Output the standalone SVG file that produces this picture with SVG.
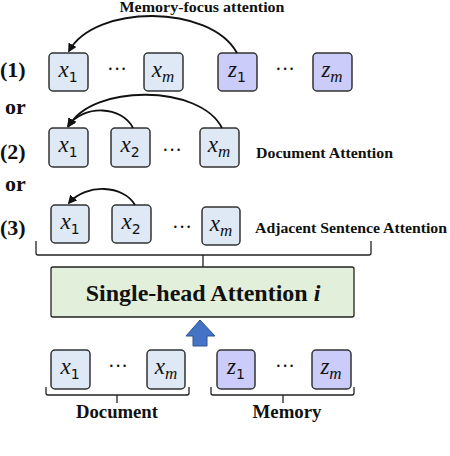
<svg xmlns="http://www.w3.org/2000/svg" width="450" height="456" viewBox="0 0 450 456">
<style>
.xb{fill:#dee9f5;stroke:#333;stroke-width:1.5}
.zb{fill:#ccccfa;stroke:#333;stroke-width:1.5}
.v{font-family:"Liberation Serif",serif;font-style:italic;font-size:23px;fill:#111}
.s{font-family:"DejaVu Sans",sans-serif;font-style:normal;font-size:14px}
.sm{font-family:"Liberation Serif",serif;font-style:italic;font-size:17px}
.lbl{font-family:"Liberation Serif",serif;font-weight:bold;fill:#111}
.dots{font-family:"Liberation Serif",serif;font-size:20px;fill:#111}
.arc{fill:none;stroke:#111;stroke-width:1.8}
.br{fill:none;stroke:#222;stroke-width:1.3}
</style>
<defs>
<marker id="ah" viewBox="0 0 10 10" refX="8" refY="5" markerWidth="5" markerHeight="5" orient="auto" markerUnits="strokeWidth">
<path d="M0,0 L10,5 L0,10 z" fill="#111"/>
</marker>
</defs>

<!-- labels -->
<g id="labels">
<text class="lbl" x="0" y="77" font-size="22">(1)</text>
<text class="lbl" x="5" y="114" font-size="22">or</text>
<text class="lbl" x="0" y="159" font-size="22">(2)</text>
<text class="lbl" x="5" y="191" font-size="22">or</text>
<text class="lbl" x="0" y="235" font-size="22">(3)</text>
<text class="lbl" x="202" y="12" font-size="15" text-anchor="middle" textLength="165" lengthAdjust="spacingAndGlyphs">Memory-focus attention</text>
<text class="lbl" x="256" y="158" font-size="14" textLength="137" lengthAdjust="spacingAndGlyphs">Document Attention</text>
<text class="lbl" x="255" y="233" font-size="14" textLength="192" lengthAdjust="spacingAndGlyphs">Adjacent Sentence Attention</text>
</g>

<!-- row 1 -->
<g id="r1-x1"><rect class="xb" x="49" y="53" width="39" height="38" rx="4"/><text class="v" x="68" y="77" text-anchor="middle">x<tspan class="s" dy="5">1</tspan></text></g>
<text class="dots" x="117" y="76" text-anchor="middle">···</text>
<g id="r1-xm"><rect class="xb" x="144" y="53" width="39" height="38" rx="4"/><text class="v" x="163" y="77" text-anchor="middle">x<tspan class="sm" dy="5">m</tspan></text></g>
<g id="r1-z1"><rect class="zb" x="218" y="53" width="39" height="38" rx="4"/><text class="v" x="237" y="77" text-anchor="middle">z<tspan class="s" dy="5">1</tspan></text></g>
<text class="dots" x="285" y="76" text-anchor="middle">···</text>
<g id="r1-zm"><rect class="zb" x="313" y="53" width="39" height="38" rx="4"/><text class="v" x="332" y="77" text-anchor="middle">z<tspan class="sm" dy="5">m</tspan></text></g>

<!-- row 2 -->
<g id="r2-x1"><rect class="xb" x="49" y="128" width="39" height="39" rx="4"/><text class="v" x="68" y="152" text-anchor="middle">x<tspan class="s" dy="5">1</tspan></text></g>
<g id="r2-x2"><rect class="xb" x="111" y="128" width="39" height="39" rx="4"/><text class="v" x="130" y="152" text-anchor="middle">x<tspan class="s" dy="5">2</tspan></text></g>
<text class="dots" x="172" y="157" text-anchor="middle">···</text>
<g id="r2-xm"><rect class="xb" x="200" y="128" width="39" height="39" rx="4"/><text class="v" x="219" y="152" text-anchor="middle">x<tspan class="sm" dy="5">m</tspan></text></g>

<!-- row 3 -->
<g id="r3-x1"><rect class="xb" x="51" y="205" width="38" height="38" rx="4"/><text class="v" x="70" y="229" text-anchor="middle">x<tspan class="s" dy="5">1</tspan></text></g>
<g id="r3-x2"><rect class="xb" x="112" y="205" width="39" height="38" rx="4"/><text class="v" x="131" y="229" text-anchor="middle">x<tspan class="s" dy="5">2</tspan></text></g>
<text class="dots" x="182" y="234" text-anchor="middle">···</text>
<g id="r3-xm"><rect class="xb" x="202" y="207" width="38" height="38" rx="4"/><text class="v" x="221" y="231" text-anchor="middle">x<tspan class="sm" dy="5">m</tspan></text></g>

<!-- attention box -->
<g id="attention">
<rect x="51" y="267" width="303" height="50" rx="2" fill="#e2efda" stroke="#222" stroke-width="1.3"/>
<text class="lbl" x="203" y="301" font-size="24" text-anchor="middle">Single-head Attention <tspan font-style="italic">i</tspan></text>
</g>

<!-- bottom row -->
<g id="b-x1"><rect class="xb" x="51" y="350" width="39" height="39" rx="4"/><text class="v" x="70" y="374" text-anchor="middle">x<tspan class="s" dy="5">1</tspan></text></g>
<text class="dots" x="118" y="373" text-anchor="middle">···</text>
<g id="b-xm"><rect class="xb" x="147" y="350" width="38" height="39" rx="4"/><text class="v" x="166" y="374" text-anchor="middle">x<tspan class="sm" dy="5">m</tspan></text></g>
<g id="b-z1"><rect class="zb" x="217" y="350" width="38" height="39" rx="4"/><text class="v" x="236" y="374" text-anchor="middle">z<tspan class="s" dy="5">1</tspan></text></g>
<text class="dots" x="285" y="373" text-anchor="middle">···</text>
<g id="b-zm"><rect class="zb" x="312" y="350" width="39" height="39" rx="4"/><text class="v" x="331" y="374" text-anchor="middle">z<tspan class="sm" dy="5">m</tspan></text></g>
<text class="lbl" x="117" y="418" font-size="18" text-anchor="middle" textLength="82" lengthAdjust="spacingAndGlyphs">Document</text>
<text class="lbl" x="287" y="418" font-size="18" text-anchor="middle" textLength="69" lengthAdjust="spacingAndGlyphs">Memory</text>

<!-- connectors -->
<g id="connectors">
<path class="arc" d="M237,53 C210,4 95,4 69,51" marker-end="url(#ah)"/>
<path class="arc" d="M222,128 C200,84 92,84 69,126" marker-end="url(#ah)"/>
<path class="arc" d="M133,128 C122,106 84,104 68,126" marker-end="url(#ah)"/>
<path class="arc" d="M135,205 C124,185 86,183 69,203" marker-end="url(#ah)"/>
<path class="br" d="M36,241 V253 Q36,255 38,255 H369 Q371,255 371,253 V241 M203,255 V267"/>
<path class="br" d="M46,387 V393 Q46,395 48,395 H187 Q189,395 189,393 V387 M117,395 V403"/>
<path class="br" d="M211,387 V393 Q211,395 213,395 H352 Q354,395 354,393 V387 M283,395 V403"/>
<path d="M200,320 L215,336 L207,336 L207,346 L193,346 L193,336 L186,336 Z" fill="#4472c4" stroke="#2f528f" stroke-width="1"/>
</g>
</svg>
